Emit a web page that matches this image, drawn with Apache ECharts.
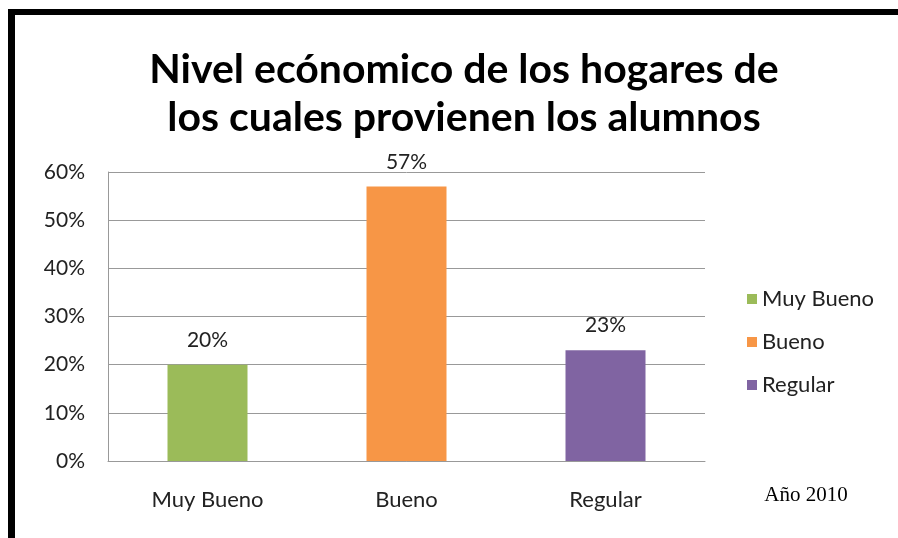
<!DOCTYPE html>
<html>
<head>
<meta charset="utf-8">
<script src="https://cdn.jsdelivr.net/npm/echarts@6/dist/echarts.min.js"></script>
<style>
html,body{margin:0;padding:0;background:#fff;}
#chart{width:898px;height:538px;}
</style>
</head>
<body>
<div id="chart"></div>
<script>
var titleText = 'Nivel ecónomico de los hogares de\nlos cuales provienen los alumnos';
var categories = ['Muy Bueno', 'Bueno', 'Regular'];
var values = [20, 57, 23];
var yTicks = [0, 10, 20, 30, 40, 50, 60];
var footnote = 'Año 2010';

var colors = ['#9BBB59', '#F79646', '#8064A2'];
var FONT = 'Lato';

var chart = echarts.init(document.getElementById('chart'), null, {renderer: 'canvas'});

var series = categories.map(function (c, i) {
  return {
    name: c,
    type: 'bar',
    stack: 'all',
    barWidth: 80,
    itemStyle: {color: colors[i]},
    label: {
      show: true,
      position: 'top',
      distance: 14,
      formatter: '{c}%',
      fontFamily: FONT,
      fontSize: 21,
      color: '#222'
    },
    data: values.map(function (v, j) { return j === i ? v : '-'; })
  };
});

chart.setOption({
  animation: false,
  backgroundColor: '#fff',
  title: {
    text: titleText,
    left: 459,
    top: 41,
    textAlign: 'center',
    textStyle: {
      fontFamily: FONT,
      fontWeight: 'bold',
      fontSize: 41,
      lineHeight: 48,
      color: '#000'
    }
  },
  legend: {
    orient: 'vertical',
    left: 742,
    top: 283,
    itemWidth: 10,
    itemHeight: 10,
    itemGap: 21,
    icon: 'rect',
    data: categories,
    textStyle: {fontFamily: FONT, fontSize: 22, color: '#222'}
  },
  grid: {left: 108, right: 193, top: 172, bottom: 77, containLabel: false},
  xAxis: {
    type: 'category',
    data: categories,
    axisLine: {show: true, lineStyle: {color: '#999'}},
    axisTick: {show: false},
    axisLabel: {fontFamily: FONT, fontSize: 22, color: '#222', margin: 28}
  },
  yAxis: {
    type: 'value',
    min: yTicks[0],
    max: yTicks[yTicks.length - 1],
    interval: 10,
    axisLine: {show: true, lineStyle: {color: '#999'}},
    axisTick: {show: false},
    splitLine: {lineStyle: {color: '#999'}},
    axisLabel: {formatter: '{value}%', fontFamily: FONT, fontSize: 21, color: '#222', margin: 23}
  },
  graphic: [
    {type: 'rect', shape: {x: 8, y: 9, width: 890, height: 6}, style: {fill: '#000'}, silent: true},
    {type: 'rect', shape: {x: 8, y: 9, width: 7, height: 529}, style: {fill: '#000'}, silent: true},
    {type: 'text', x: 806, y: 495, style: {text: footnote, font: '21px "Liberation Serif", serif', fill: '#000', align: 'center', verticalAlign: 'middle'}}
  ],
  series: series
});
</script>
</body>
</html>
